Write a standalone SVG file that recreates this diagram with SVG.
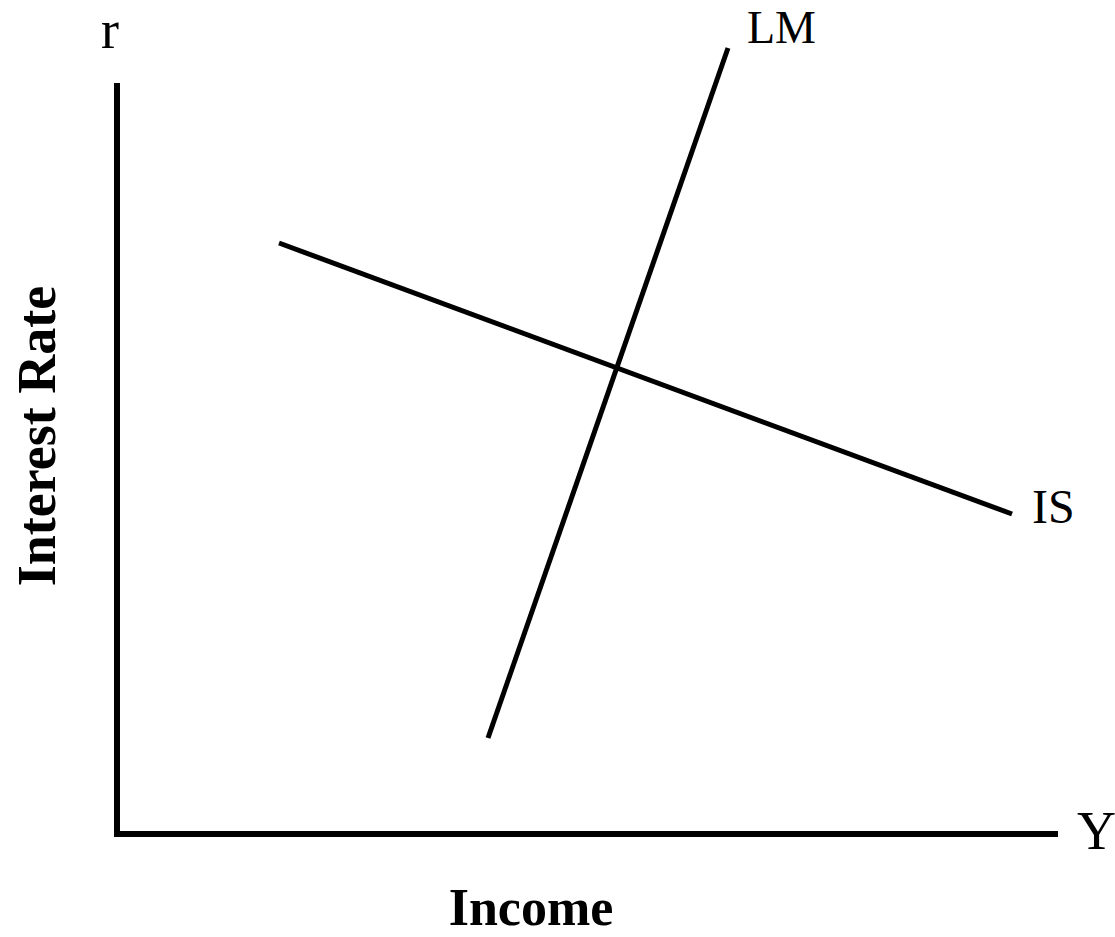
<svg xmlns="http://www.w3.org/2000/svg" width="1115" height="937" viewBox="0 0 1115 937">
<style>
.ln{stroke:#000;stroke-width:5;fill:none}
.ax{stroke:#000;stroke-width:6;fill:none;stroke-linejoin:miter}
.t{font-family:"Liberation Serif","Times New Roman",serif;fill:#000}
.b{font-weight:bold;font-size:52px}
</style>
<rect width="1115" height="937" fill="#fff"/>
<g id="axes">
<polyline class="ax" points="117,83 117,834 1058,834"/>
</g>
<g id="curves">
<line id="IS-curve" class="ln" x1="279" y1="243" x2="1012" y2="514"/>
<line id="LM-curve" class="ln" x1="488" y1="738" x2="728" y2="48"/>
</g>
<g id="labels">
<text class="t" x="101" y="48" font-size="54">r</text>
<text class="t" x="1077" y="849" font-size="54">Y</text>
<text class="t" x="747" y="43" font-size="46">LM</text>
<text class="t" x="1032" y="523" font-size="48">IS</text>
<text class="t b" x="531" y="925" text-anchor="middle">Income</text>
<text class="t b" transform="translate(55,436) rotate(-90)" text-anchor="middle" font-size="54" style="font-size:54px">Interest Rate</text>
</g>
</svg>
